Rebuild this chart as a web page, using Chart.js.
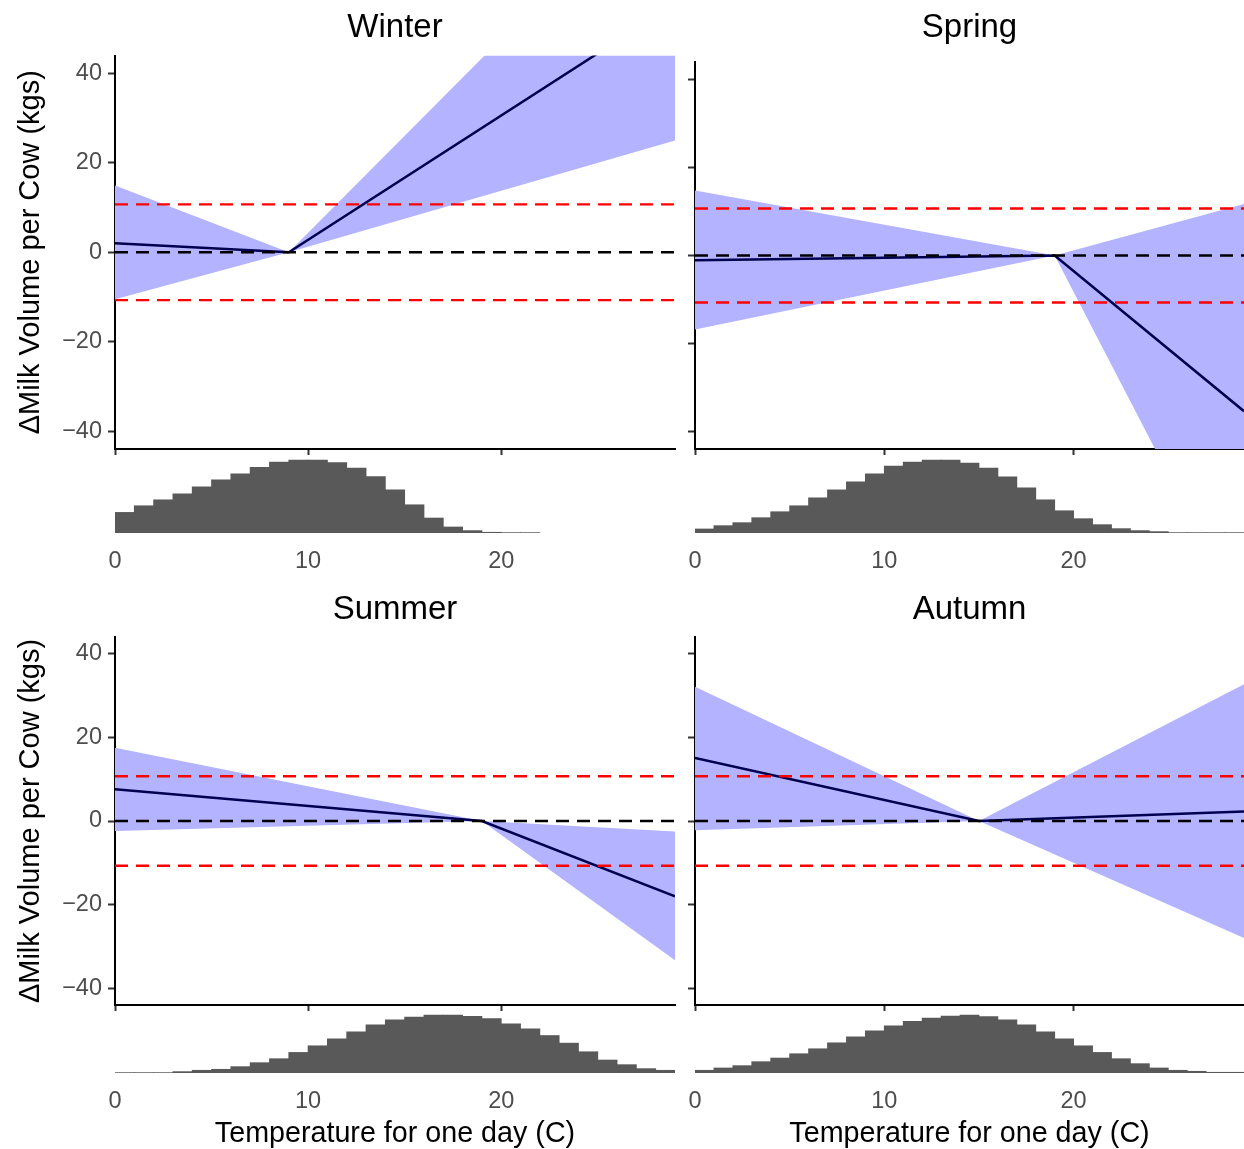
<!DOCTYPE html>
<html>
<head>
<meta charset="utf-8">
<script src="https://cdn.jsdelivr.net/npm/chart.js@4.4.1/dist/chart.umd.min.js"></script>
<style>
    body { margin: 0; background: #fff; }
    #wrap { position: relative; width: 1244px; height: 1149px; overflow: hidden; }
    canvas { position: absolute; }
</style>
</head>
<body>
<div id="wrap">
    <canvas id="winterMain" width="690" height="455" style="left:0;top:0"></canvas>
    <canvas id="winterHist" width="690" height="120" style="left:0;top:455px"></canvas>
    <canvas id="springMain" width="644" height="455" style="left:600px;top:0"></canvas>
    <canvas id="springHist" width="644" height="120" style="left:600px;top:455px"></canvas>
    <canvas id="summerMain" width="690" height="431" style="left:0;top:580px"></canvas>
    <canvas id="summerHist" width="690" height="140" style="left:0;top:1011px"></canvas>
    <canvas id="autumnMain" width="644" height="431" style="left:600px;top:580px"></canvas>
    <canvas id="autumnHist" width="644" height="140" style="left:600px;top:1011px"></canvas>
</div>
<script>
// 軸
const xMax = 29;
const yMin = -44, yMax = 44;
const xTicks = [0, 10, 20];
const yTicks = [-40, -20, 0, 20, 40];
const redLines = [-10.7, 10.7];
const zeroLine = 0;
const yTitle = 'ΔMilk Volume per Cow (kgs)';
const xTitle = 'Temperature for one day (C)';

// 季節ごとの推定 (x = 温度の節点)
const winterX = [0, 9, 29];
const winterFit = [2.0, 0, 55.6];
const winterUpper = [14.9, 0, 86.8];
const winterLower = [-10.5, 0, 25.0];

const springX = [0, 19, 29];
const springFit = [-1.1, 0, -35.4];
const springUpper = [14.8, 0, 11.7];
const springLower = [-16.8, 0, -83.0];

const summerX = [0, 19, 29];
const summerFit = [7.6, 0, -18.0];
const summerUpper = [17.5, 0, -2.5];
const summerLower = [-2.4, 0, -33.3];

const autumnX = [0, 15, 29];
const autumnFit = [15.1, 0, 2.3];
const autumnUpper = [32.1, 0, 32.7];
const autumnLower = [-2.2, 0, -28.0];

// 温度のヒストグラム (1度ごとのビン、0から)
const binWidth = 1;
const winterHist = [62, 82, 100, 118, 139, 160, 178, 198, 214, 220, 220, 212, 196, 170, 130, 85, 45, 18, 7, 2, 1, 1];
const springHist = [12, 22, 31, 46, 64, 82, 106, 130, 154, 178, 202, 214, 220, 220, 211, 196, 169, 136, 100, 67, 43, 25, 13, 7, 4, 1, 1, 1, 1];
const summerHist = [1, 1, 1, 4, 8, 11, 19, 31, 43, 62, 82, 103, 124, 145, 160, 169, 175, 175, 171, 164, 148, 133, 113, 90, 64, 39, 25, 13, 8];
const autumnHist = [8, 15, 22, 34, 45, 58, 73, 91, 109, 127, 142, 156, 166, 172, 175, 170, 160, 145, 124, 103, 82, 62, 43, 28, 15, 8, 5, 2, 2];

const FONT = "'Liberation Sans', Arial, Helvetica, sans-serif";
Chart.defaults.font.family = FONT;

function pts(xs, ys) {
    return xs.map((x, i) => ({x: x, y: ys[i]}));
}

function hline(v, color, order) {
    return {
        data: [{x: 0, y: v}, {x: xMax, y: v}],
        borderColor: color,
        borderWidth: 2.4,
        borderDash: [13, 8],
        pointRadius: 0,
        fill: false,
        order: order
    };
}

// 上段のグラフ（リボン＋折れ線）
function mainChart(id, c) {
    return new Chart(document.getElementById(id), {
        type: 'line',
        data: {
            datasets: [
                {data: pts(c.x, c.upper), borderWidth: 0, pointRadius: 0, backgroundColor: '#B3B3FF', fill: '+1', order: 5},
                {data: pts(c.x, c.lower), borderWidth: 0, pointRadius: 0, fill: false, order: 4},
                {data: pts(c.x, c.fit), borderColor: '#000050', borderWidth: 2.5, pointRadius: 0, fill: false, order: 3},
                hline(redLines[0], '#FF0000', 2),
                hline(redLines[1], '#FF0000', 2),
                hline(zeroLine, '#000000', 1)
            ]
        },
        options: {
            responsive: false,
            animation: false,
            events: [],
            layout: {padding: {right: c.padRight}},
            plugins: {
                legend: {display: false},
                tooltip: {enabled: false},
                title: {
                    display: true,
                    text: c.title,
                    fullSize: false,
                    color: '#000',
                    font: {size: 33, weight: 'normal'},
                    padding: {top: c.titleTop, bottom: c.titleBottom}
                }
            },
            scales: {
                x: {
                    type: 'linear',
                    min: 0,
                    max: xMax,
                    afterBuildTicks: s => { s.ticks = xTicks.map(v => ({value: v})); },
                    afterFit: s => { s.height = 6; s.paddingLeft = 0; s.paddingRight = 0; },
                    ticks: {display: false},
                    grid: {drawOnChartArea: false, tickLength: 6, tickColor: '#333', tickWidth: 2},
                    border: {color: '#000', width: 2}
                },
                y: {
                    min: yMin,
                    max: yMax,
                    afterBuildTicks: s => { s.ticks = yTicks.map(v => ({value: v})); },
                    afterFit: s => { s.width = c.yWidth; s.paddingTop = 0; s.paddingBottom = 0; },
                    ticks: {
                        display: c.labels,
                        color: '#4D4D4D',
                        font: {size: 23.5},
                        padding: 6,
                        callback: v => v < 0 ? '\u2212' + Math.abs(v) : String(v)
                    },
                    grid: {drawOnChartArea: false, tickLength: 7, tickColor: '#333', tickWidth: 2},
                    border: {color: '#000', width: 2},
                    title: {
                        display: c.labels,
                        text: yTitle,
                        color: '#000',
                        font: {size: 29},
                        padding: {top: 14, bottom: 0}
                    }
                }
            }
        }
    });
}

// 下段のヒストグラム
function histChart(id, counts, c) {
    const peak = Math.max(...counts);
    return new Chart(document.getElementById(id), {
        type: 'bar',
        data: {
            datasets: [{
                data: counts.map((n, i) => ({x: i * binWidth + binWidth / 2, y: n})),
                backgroundColor: '#595959',
                borderWidth: 0,
                inflateAmount: 0.4,
                barPercentage: 1,
                categoryPercentage: 1
            }]
        },
        options: {
            responsive: false,
            animation: false,
            events: [],
            layout: {padding: {left: c.padLeft, right: c.padRight}},
            plugins: {legend: {display: false}, tooltip: {enabled: false}},
            scales: {
                x: {
                    type: 'linear',
                    min: 0,
                    max: xMax,
                    offset: false,
                    afterBuildTicks: s => { s.ticks = xTicks.map(v => ({value: v})); },
                    afterFit: s => { s.height = c.axisHeight; s.paddingLeft = 0; s.paddingRight = 0; },
                    ticks: {color: '#4D4D4D', font: {size: 23.5}, padding: 6, maxRotation: 0},
                    grid: {display: false},
                    border: {display: false},
                    title: {
                        display: c.showTitle,
                        text: xTitle,
                        color: '#000',
                        font: {size: 28.7},
                        padding: {top: 0, bottom: 0}
                    }
                },
                y: {display: false, min: 0, max: peak * 1.07}
            }
        }
    });
}

mainChart('winterMain', {title: 'Winter', x: winterX, fit: winterFit, upper: winterUpper, lower: winterLower,
    labels: true, yWidth: 115, padRight: 15, titleTop: 8.2, titleBottom: 7.7});
mainChart('springMain', {title: 'Spring', x: springX, fit: springFit, upper: springUpper, lower: springLower,
    labels: false, yWidth: 95, padRight: 0, titleTop: 8.2, titleBottom: 14.2});
mainChart('summerMain', {title: 'Summer', x: summerX, fit: summerFit, upper: summerUpper, lower: summerLower,
    labels: true, yWidth: 115, padRight: 15, titleTop: 10.2, titleBottom: 7.2});
mainChart('autumnMain', {title: 'Autumn', x: autumnX, fit: autumnFit, upper: autumnUpper, lower: autumnLower,
    labels: false, yWidth: 95, padRight: 0, titleTop: 10.2, titleBottom: 7.2});

histChart('winterHist', winterHist, {padLeft: 115, padRight: 15, axisHeight: 42, showTitle: false});
histChart('springHist', springHist, {padLeft: 95, padRight: 0, axisHeight: 42, showTitle: false});
histChart('summerHist', summerHist, {padLeft: 115, padRight: 15, axisHeight: 78, showTitle: true});
histChart('autumnHist', autumnHist, {padLeft: 95, padRight: 0, axisHeight: 78, showTitle: true});
</script>
</body>
</html>
